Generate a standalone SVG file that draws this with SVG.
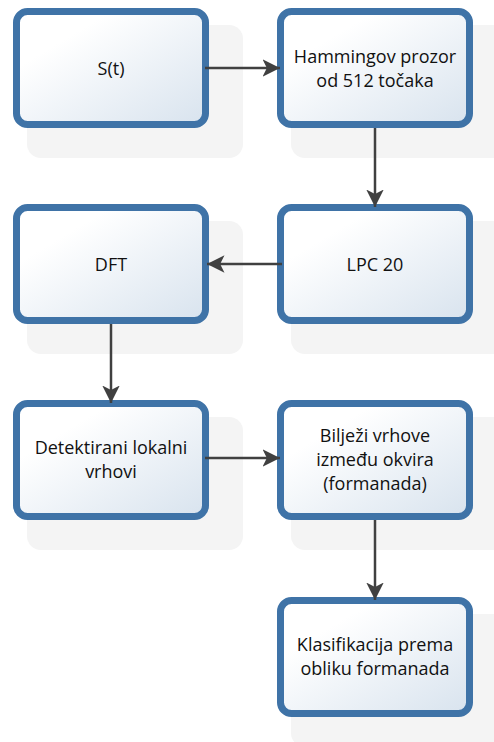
<svg xmlns="http://www.w3.org/2000/svg" width="494" height="742" viewBox="0 0 494 742">
  <defs>
    <linearGradient id="boxFill" x1="0" y1="0" x2="1" y2="1">
      <stop offset="0.25" stop-color="#ffffff"/>
      <stop offset="1" stop-color="#d8e3ee"/>
    </linearGradient>
    <marker id="arrow" viewBox="0 0 10 10" refX="10" refY="5" markerWidth="7" markerHeight="7" markerUnits="strokeWidth" orient="auto">
      <path d="M0,0 L10,5 L0,10 L2.5,5 Z" fill="#404040"/>
    </marker>
  </defs>
  <style>
    .shadow { fill: #f4f4f4; }
    .box { fill: url(#boxFill); stroke: #3f73a7; stroke-width: 7; }
    .label { font-family: "Open Sans", "Liberation Sans", sans-serif; font-size: 18px; fill: #111111; text-anchor: middle; }
    .conn { stroke: #404040; stroke-width: 2.5; fill: none; marker-end: url(#arrow); }
  </style>

  <rect width="494" height="742" fill="#ffffff"/>

  <g id="node-st">
    <rect class="shadow" x="27" y="25" width="216" height="133" rx="14"/>
    <rect class="box" x="16.5" y="11.5" width="189" height="113" rx="11"/>
    <text class="label" x="111" y="74.5">S(t)</text>
  </g>

  <g id="node-hamming">
    <rect class="shadow" x="291" y="25" width="216" height="133" rx="14"/>
    <rect class="box" x="280.5" y="11.5" width="189" height="113" rx="11"/>
    <text class="label" x="375" y="62.5">Hammingov prozor</text>
    <text class="label" x="375" y="86.5">od 512 točaka</text>
  </g>

  <g id="node-dft">
    <rect class="shadow" x="27" y="221" width="216" height="133" rx="14"/>
    <rect class="box" x="16.5" y="207.5" width="189" height="113" rx="11"/>
    <text class="label" x="111" y="270.5">DFT</text>
  </g>

  <g id="node-lpc">
    <rect class="shadow" x="291" y="221" width="216" height="133" rx="14"/>
    <rect class="box" x="280.5" y="207.5" width="189" height="113" rx="11"/>
    <text class="label" x="375" y="270.5">LPC 20</text>
  </g>

  <g id="node-peaks">
    <rect class="shadow" x="27" y="417" width="216" height="133" rx="14"/>
    <rect class="box" x="16.5" y="403.5" width="189" height="113" rx="11"/>
    <text class="label" x="111" y="454">Detektirani lokalni</text>
    <text class="label" x="111" y="478">vrhovi</text>
  </g>

  <g id="node-track">
    <rect class="shadow" x="291" y="417" width="216" height="133" rx="14"/>
    <rect class="box" x="280.5" y="403.5" width="189" height="113" rx="11"/>
    <text class="label" x="375" y="441.5">Bilježi vrhove</text>
    <text class="label" x="375" y="465.5">između okvira</text>
    <text class="label" x="375" y="489.5">(formanada)</text>
  </g>

  <g id="node-classify">
    <rect class="shadow" x="291" y="614" width="216" height="133" rx="14"/>
    <rect class="box" x="280.5" y="600.5" width="189" height="113" rx="11"/>
    <text class="label" x="375" y="651">Klasifikacija prema</text>
    <text class="label" x="375" y="675">obliku formanada</text>
  </g>

  <g id="connectors">
    <line class="conn" x1="205" y1="68" x2="280" y2="68"/>
    <line class="conn" x1="375" y1="128" x2="375" y2="207"/>
    <line class="conn" x1="282" y1="264" x2="207" y2="264"/>
    <line class="conn" x1="111" y1="324" x2="111" y2="403"/>
    <line class="conn" x1="205" y1="458" x2="280" y2="458"/>
    <line class="conn" x1="375" y1="520" x2="375" y2="600"/>
  </g>
</svg>
